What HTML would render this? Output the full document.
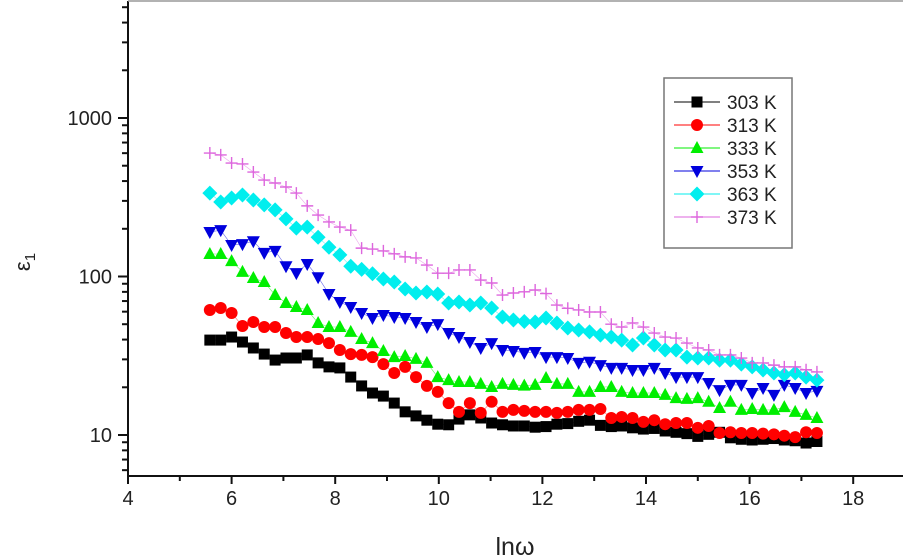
<!DOCTYPE html>
<html>
<head>
<meta charset="utf-8">
<style>
  html,body{margin:0;padding:0;background:#fff;}
  svg{display:block;font-family:"Liberation Sans",sans-serif;}
</style>
</head>
<body>
<svg id="chart" width="903" height="557" viewBox="0 0 903 557">
  <g id="axes"></g>
  <g id="series"></g>
  <g id="legend"></g>
  <text x="515" y="555" font-size="25" text-anchor="middle" fill="#222">lnω</text>
  <text transform="translate(30,262) rotate(-90)" font-size="22" text-anchor="middle" fill="#222">ε<tspan font-size="15" dy="5">1</tspan></text>
</svg>
<script>
const xTicks = [4, 6, 8, 10, 12, 14, 16, 18];
const yTicks = [10, 100, 1000];
const yTickLabels = ["10", "100", "1000"];
const seriesNames = ["303 K", "313 K", "333 K", "353 K", "363 K", "373 K"];
const lnw = [5.58,5.79,6.0,6.21,6.42,6.63,6.84,7.05,7.25,7.46,7.67,7.88,8.09,8.30,8.51,8.72,8.93,9.14,9.35,9.56,9.77,9.98,10.19,10.39,10.60,10.81,11.02,11.23,11.44,11.65,11.86,12.07,12.28,12.49,12.70,12.91,13.12,13.33,13.53,13.74,13.95,14.16,14.37,14.58,14.79,15.00,15.21,15.42,15.63,15.84,16.05,16.26,16.47,16.67,16.88,17.09,17.30];
const s303 = [39.7,39.7,41.5,38.6,35.4,32.4,29.7,30.6,30.6,32,28.5,26.9,26.5,23.2,20.4,18.4,17.6,15.9,14,13.2,12.4,11.7,11.6,12.6,13.4,12.8,11.9,11.6,11.4,11.4,11.2,11.3,11.7,11.8,12.2,12.4,11.5,11.3,11.4,11.1,10.9,11.0,10.6,10.4,10.2,9.8,10.1,10.4,9.6,9.4,9.3,9.4,9.5,9.3,9.2,8.9,9.1];
const s313 = [61.5,63.3,58.8,48.7,51.6,48,48,44,41.5,41.5,40.3,38,34.4,32.4,32,31,28,24.6,26.9,23.2,20.4,18.7,15.9,14,15.9,13.8,16.2,14,14.4,14.2,14,14,13.8,14,14.4,14.4,14.6,12.8,13,12.8,12.1,12.4,11.7,11.9,11.9,11.1,11.4,10.3,10.4,10.3,10.3,10.2,10.1,9.9,9.7,10.4,10.3];
const s333 = [138.7,138.7,125,107,97.9,92.3,76.4,68,64.2,61.5,50.9,48,48,44.7,40.3,38,33.9,31,31.5,30.2,28.5,23.2,22.2,21.6,21.6,21,20.1,21,20.7,20.5,20.7,22.9,21,21,18.7,18.7,20.1,20.1,18.7,18.4,18.4,18.4,17.9,17.1,16.9,17.1,16.2,14.8,16.2,14.4,14.6,14.4,14.4,15,14,13.4,12.8];
const s353 = [191,196,158,160,167,141,145,116,105,120,99,77.6,69,64.2,58.8,54.7,57.2,55.5,54.7,51.6,48,50.1,44,41.5,38.6,35.4,38,34.4,33.9,33,33.4,31,31,30.6,28.5,29,27.6,26.5,26.5,25.7,25.7,26.5,24.6,23.2,23.2,23.2,21.3,19.2,20.7,20.7,18.4,19.8,17.9,20.7,19.8,18.4,19];
const s363 = [336,295,313,327,304,283,263,231,202,205,177,153,137,116,111,104,96.4,92.3,83.4,78.7,79.8,77.6,68,69,66.1,68,63.3,55.5,53.2,52,51.6,54.7,50.9,47.3,46,44.7,42.7,41.5,39.7,37,40.9,37,34.4,34.4,31,30.6,30.6,29.7,29.7,28,26.9,25.7,24.6,24,24.6,23.2,22.2];
const s373 = [601,585,520,513,456,406,389,367,336,279,244,221,205,196,151,149,145,139,133,131,118,105,105,110,110,95,91,76.4,78.7,80,82.2,78,66,63,61.5,59.7,59.7,50,48,50.9,48,44,41.5,40.9,38,35.4,34.4,32,32,30.6,28.5,28.5,27.6,26.9,26.9,25.8,25];
const allSeries = [s303, s313, s333, s353, s363, s373];
const colors = ["#000000", "#ff0000", "#00ee00", "#0000dd", "#00eeee", "#dd66dd"];
const markers = ["square", "circle", "up", "down", "diamond", "plus"];

const X0 = 128, PXU = 51.8;
const Y10 = 435, PXD = 158.5;
function xs(v){ return X0 + (v - 4) * PXU; }
function ys(v){ return Y10 - (Math.log10(v) - 1) * PXD; }
const NS = "http://www.w3.org/2000/svg";
function mk(tag, attrs, parent){
  const e = document.createElementNS(NS, tag);
  for (const k in attrs) e.setAttribute(k, attrs[k]);
  parent.appendChild(e);
  return e;
}
const axes = document.getElementById('axes');
const AXY = 476;
const yAxis = mk('line', {x1:X0, y1:1, x2:X0, y2:AXY, stroke:'#111', 'stroke-width':2}, axes);


const xAxis = mk('line', {x1:X0-1, y1:AXY, x2:903, y2:AXY, stroke:'#111', 'stroke-width':2}, axes);


const topLine = mk('line', {x1:X0, y1:1, x2:903, y2:1, stroke:'#999', 'stroke-width':1.5}, axes);


for (let v = 4; v <= 19; v++){
  const major = v % 2 === 0;
  const t = mk('line', {x1:xs(v), y1:AXY, x2:xs(v), y2:AXY + (major ? 8 : 5), stroke:'#111', 'stroke-width':2}, axes);
  
  
}
xTicks.forEach(v => {
  const t = mk('text', {x:xs(v), y:AXY + 29, 'font-size':20, 'text-anchor':'middle', fill:'#222'}, axes);
  t.textContent = String(v);
  
  
});
for (let d = 0; d <= 3; d++){
  for (let m = 1; m <= 9; m++){
    const v = m * Math.pow(10, d);
    const y = ys(v);
    if (y < 1 || y > AXY) continue;
    const t = mk('line', {x1:X0 - (m === 1 ? 10 : 6), y1:y, x2:X0, y2:y, stroke:'#111', 'stroke-width':2}, axes);
    
    
  }
}
yTicks.forEach((v, i) => {
  const t = mk('text', {x:X0 - 16, y:ys(v) + 7, 'font-size':20, 'text-anchor':'end', fill:'#222'}, axes);
  t.textContent = yTickLabels[i];
  
  
});

function marker(kind, x, y, color, parent){
  let e;
  if (kind === 'square') e = mk('rect', {x:x-5.5, y:y-5.5, width:11, height:11, fill:color}, parent);
  else if (kind === 'circle') e = mk('circle', {cx:x, cy:y, r:6, fill:color}, parent);
  else if (kind === 'up') e = mk('polygon', {points:`${x},${y-7} ${x-6.5},${y+5} ${x+6.5},${y+5}`, fill:color}, parent);
  else if (kind === 'down') e = mk('polygon', {points:`${x-6.5},${y-5} ${x+6.5},${y-5} ${x},${y+7}`, fill:color}, parent);
  else if (kind === 'diamond') e = mk('polygon', {points:`${x},${y-7.5} ${x+7.5},${y} ${x},${y+7.5} ${x-7.5},${y}`, fill:color}, parent);
  else e = mk('path', {d:`M${x-6},${y}H${x+6}M${x},${y-6}V${y+6}`, stroke:color, 'stroke-width':1.4, fill:'none'}, parent);
  return e;
}

const sg = document.getElementById('series');
allSeries.forEach((s, si) => {
  const g = mk('g', {}, sg);
  
  
  const n = Math.min(s.length, lnw.length);
  let d = '';
  for (let i = 0; i < n; i++) d += (i ? 'L' : 'M') + xs(lnw[i]).toFixed(1) + ',' + ys(s[i]).toFixed(1);
  const ln = mk('path', {d:d, stroke:colors[si], 'stroke-width':0.6, fill:'none', opacity:0.6}, g);
  
  
  for (let i = 0; i < n; i++){
    const m = marker(markers[si], xs(lnw[i]), ys(s[i]), colors[si], g);
    
    
  }
});

const lg = document.getElementById('legend');
const box = mk('rect', {x:664, y:78, width:128, height:170, fill:'#fff', stroke:'#777', 'stroke-width':1.5}, lg);


seriesNames.forEach((name, i) => {
  const y = 102 + i * 23;
  const g = mk('g', {}, lg);
  
  
  mk('line', {x1:674, y1:y, x2:720, y2:y, stroke:colors[i], 'stroke-width':1}, g);
  marker(markers[i], 697, y, colors[i], g);
  const t = mk('text', {x:727, y:y + 7, 'font-size':19, fill:'#222'}, g);
  t.textContent = name;
});
</script>
</body>
</html>
